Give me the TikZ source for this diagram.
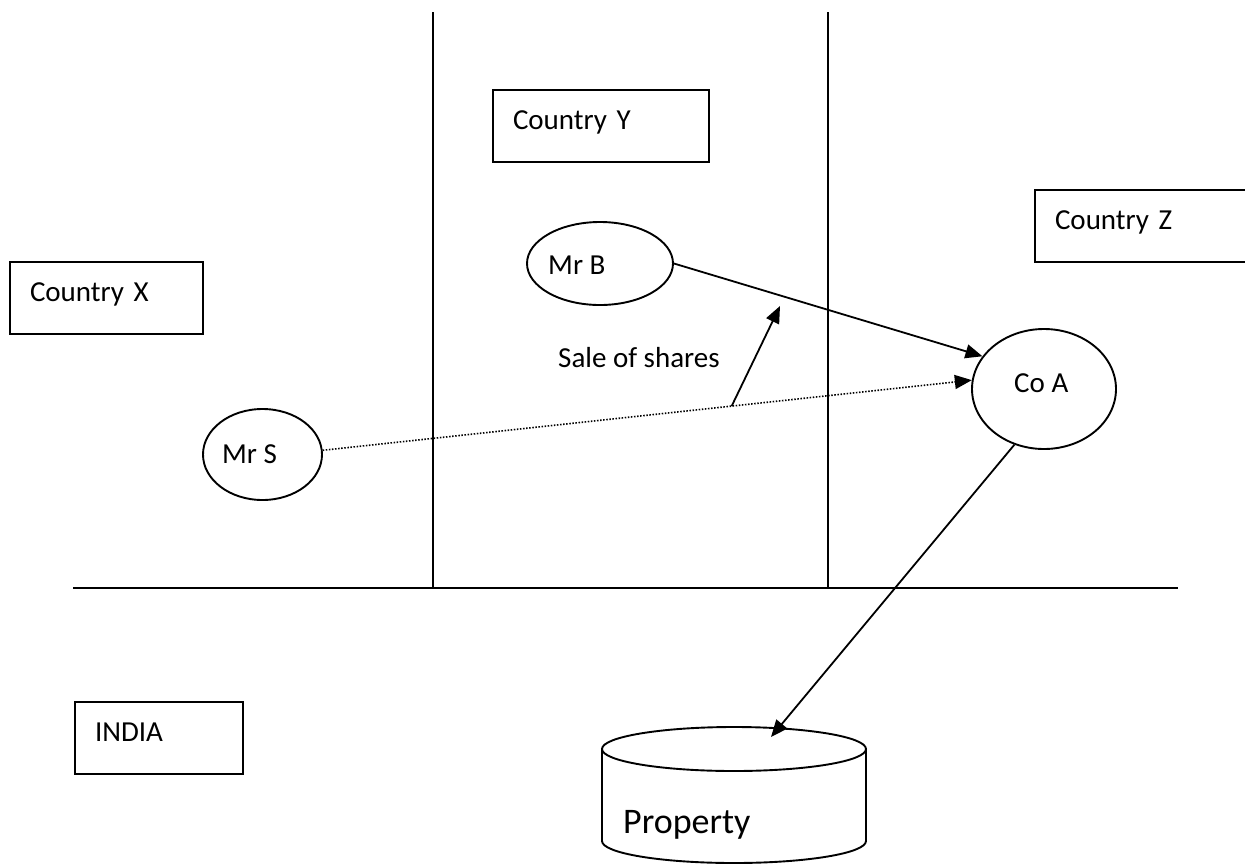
\documentclass[tikz,border=0pt]{standalone}
\usepackage{fontspec}
\setmainfont{Carlito}
\usetikzlibrary{arrows.meta,shapes.geometric,calc}
\begin{document}
\begin{tikzpicture}[x=1pt,y=-1pt,
  txt/.style={font=\fontsize{29}{35}\selectfont},
  box/.style={draw, line width=2pt, rectangle, anchor=north west, minimum height=72pt,
    inner xsep=20pt, inner ysep=0pt, align=left, text height=20pt, text depth=14pt, txt},
  ell/.style={draw, line width=1.9pt, ellipse, inner sep=0pt},
  lbl/.style={anchor=base west, inner sep=0pt, txt},
  tip/.style={-{Triangle[length=17pt,width=14pt]}},
  arr/.style={line width=1.8pt, tip},
  dotline/.style={line width=1.6pt, dash pattern=on 1.5pt off 1.6pt, tip},
  border/.style={line width=1.8pt}
]
\useasboundingbox (0,0) rectangle (1245,865);

% region borders
\draw[border] (433,12) -- (433,588);
\draw[border] (828,12) -- (828,588);
\draw[line width=2.4pt] (73,588) -- (1178,588);

% country boxes
\node[box, minimum width=193pt, text width=153pt] (cx) at (9,261) {Country X};
\node[box, minimum width=216pt, text width=176pt] (cy) at (492,89) {Country Y};
\node[box, minimum width=400pt, text width=360pt] (cz) at (1034,189) {Country Z};
\node[box, minimum width=168pt, text width=128pt] (india) at (74,701) {INDIA};

% persons / company
\node[ell, minimum width=119pt, minimum height=91pt] (mrS) at (262.5,454.5) {};
\node[lbl] (mrS-t) at (222,463) {Mr S};
\node[ell, minimum width=146pt, minimum height=83pt] (mrB) at (600,263.5) {};
\node[lbl] (mrB-t) at (548,274) {Mr B};
\node[ell, minimum width=144pt, minimum height=120pt] (coA) at (1044,389) {};
\node[lbl] (coA-t) at (1014,392) {Co A};

% property cylinder
\draw[line width=1.9pt] (602,749) -- (602,841) arc[start angle=180, end angle=0, x radius=132, y radius=22] -- (866,749);
\draw[line width=1.9pt] (734,749) ellipse [x radius=132, y radius=22];
\node[lbl, font=\fontsize{36}{43}\selectfont] (prop) at (623,833) {Property};
\coordinate (propIn) at (771,737);

% connectors
\draw[dotline] (mrS.4) -- (coA.173);
\draw[arr] (mrB.east) -- (coA.152);
\coordinate (s0) at ($(mrS.4)!0.63!(coA.173)$);
\coordinate (s1) at (780,306);
\draw[arr] (s0) -- (s1);
\node[lbl] (sale) at (558,367) {Sale of shares};
\draw[arr] (coA.242) -- (propIn);
\end{tikzpicture}
\end{document}
